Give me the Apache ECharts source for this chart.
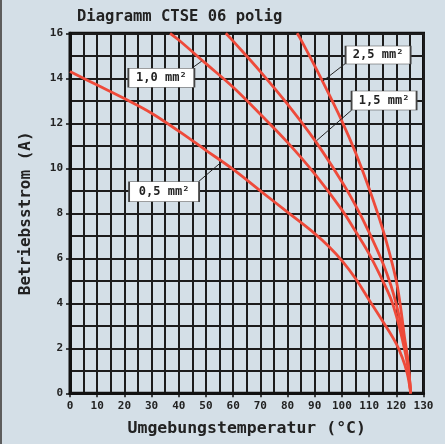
<!DOCTYPE html>
<html>
<head>
<meta charset="utf-8">
<script src="https://cdn.jsdelivr.net/npm/echarts@6/dist/echarts.min.js"></script>
<style>
html,body{margin:0;padding:0;background:#d4dfe7;}
#c{width:445px;height:444px;}
</style>
</head>
<body>
<div id="c"></div>
<script>
// ---- data ----
var titleText = 'Diagramm CTSE 06 polig';
var xName = 'Umgebungstemperatur (°C)';
var yName = 'Betriebsstrom (A)';

var x05 = [0,10,20,30,40,50,60,70,80,90,95,100,105,110,115,120,122,124,125.3];
var y05 = [14.3,13.7,13.1,12.45,11.65,10.8,9.95,9.0,8.05,7.1,6.55,5.9,5.1,4.15,3.2,2.2,1.65,0.9,0];

var x10 = [36.8,40,50,60,70,80,90,100,105,110,115,118,120,122,124,125.3];
var y10 = [16,15.7,14.65,13.6,12.4,11.15,9.75,8.15,7.2,6.2,5.0,4.2,3.45,2.5,1.35,0];

var x15 = [57.3,60,70,80,90,100,105,110,115,118,120,122,124,125.3];
var y15 = [16,15.65,14.3,12.85,11.25,9.4,8.35,7.15,5.8,4.8,3.95,2.9,1.6,0];

var x25 = [83.5,85,90,95,100,105,110,115,118,120,121,122,123,124,125.3];
var y25 = [16,15.7,14.55,13.35,12.1,10.7,9.1,7.3,6.0,5.0,4.3,3.45,2.5,1.7,0];

// annotation labels: box centre (data units) and pointer from box edge to curve
var labelText = ['1,0 mm²','0,5 mm²','2,5 mm²','1,5 mm²'];
var labelX = [33.6,34.6,113.3,115.5];
var labelY = [14.02,8.96,15.04,13.01];
var ptrFromX = [44.7,47.2,101.4,103.6];
var ptrFromY = [14.44,9.40,14.67,12.59];
var ptrToX = [48.4,55.8,93.1,90.7];
var ptrToY = [14.76,10.29,13.89,11.23];

// ---- build ----
function pairs(xs, ys){ return xs.map(function(x,i){ return [x, ys[i]]; }); }
var RED = '#ee4a3a';
var FONT = '"DejaVu Sans Mono", monospace';
var GRIDC = '#1c1c1c';

var series = [];
[[x05,y05],[x10,y10],[x15,y15],[x25,y25]].forEach(function(s){
  series.push({
    type:'line', data:pairs(s[0],s[1]), showSymbol:false, symbol:'none',
    smooth:0.4, clip:true, zlevel:1, z:3,
    lineStyle:{color:RED, width:2.8}, silent:true
  });
});
for (var i=0;i<labelText.length;i++){
  series.push({
    type:'line', data:[[ptrFromX[i],ptrFromY[i]],[ptrToX[i],ptrToY[i]]],
    showSymbol:false, symbol:'none', lineStyle:{color:'#222', width:1},
    zlevel:1, z:4, silent:true
  });
}
var boxSizes = [[66,19],[70,20],[65,18],[65,19]];
series.push({
  type:'scatter', zlevel:1, z:5, silent:true,
  data: labelText.map(function(t,i){
    return {
      value:[labelX[i],labelY[i]],
      symbol:'rect', symbolSize:boxSizes[i],
      itemStyle:{color:'#ffffff', borderColor:'#444', borderWidth:1, opacity:1},
      label:{show:true, position:'inside', formatter:t, color:'#222',
             fontFamily:FONT, fontWeight:'bold', fontSize:12}
    };
  })
});

var chart = echarts.init(document.getElementById('c'), null, {renderer:'canvas'});
chart.setOption({
  backgroundColor:'#d4dfe7',
  animation:false,
  title:{
    text:titleText, left:72, top:4,
    textStyle:{fontFamily:FONT, fontWeight:'bold', fontSize:15.5, color:'#222'}
  },
  graphic:[{type:'rect', left:0, top:0, shape:{width:2, height:444}, style:{fill:'#5d5d5d'}}],
  grid:{left:70, right:21.5, top:33.3, bottom:50.7, show:true,
        borderColor:'#111', borderWidth:3, backgroundColor:'transparent'},
  xAxis:{
    type:'value', min:0, max:130, interval:10,
    name:xName, nameLocation:'middle', nameGap:27,
    nameTextStyle:{fontFamily:FONT, fontWeight:'bold', fontSize:16.5, color:'#222'},
    axisLine:{show:true, lineStyle:{color:'#111', width:3}},
    axisTick:{show:true, length:4, lineStyle:{color:'#111', width:1.5}},
    axisLabel:{fontFamily:FONT, fontWeight:'bold', fontSize:11, color:'#222', margin:7},
    splitLine:{show:true, lineStyle:{color:GRIDC, width:2}},
    minorTick:{show:false, splitNumber:2},
    minorSplitLine:{show:true, lineStyle:{color:GRIDC, width:2}}
  },
  yAxis:{
    type:'value', min:0, max:16, interval:2,
    name:yName, nameLocation:'middle', nameGap:36,
    nameTextStyle:{fontFamily:FONT, fontWeight:'bold', fontSize:16, color:'#222'},
    axisLine:{show:true, lineStyle:{color:'#111', width:3}},
    axisTick:{show:true, length:4, lineStyle:{color:'#111', width:1.5}},
    axisLabel:{fontFamily:FONT, fontWeight:'bold', fontSize:11, color:'#222', margin:7},
    splitLine:{show:true, lineStyle:{color:GRIDC, width:2}},
    minorTick:{show:false, splitNumber:2},
    minorSplitLine:{show:true, lineStyle:{color:GRIDC, width:2}}
  },
  series:series
});
</script>
</body>
</html>
